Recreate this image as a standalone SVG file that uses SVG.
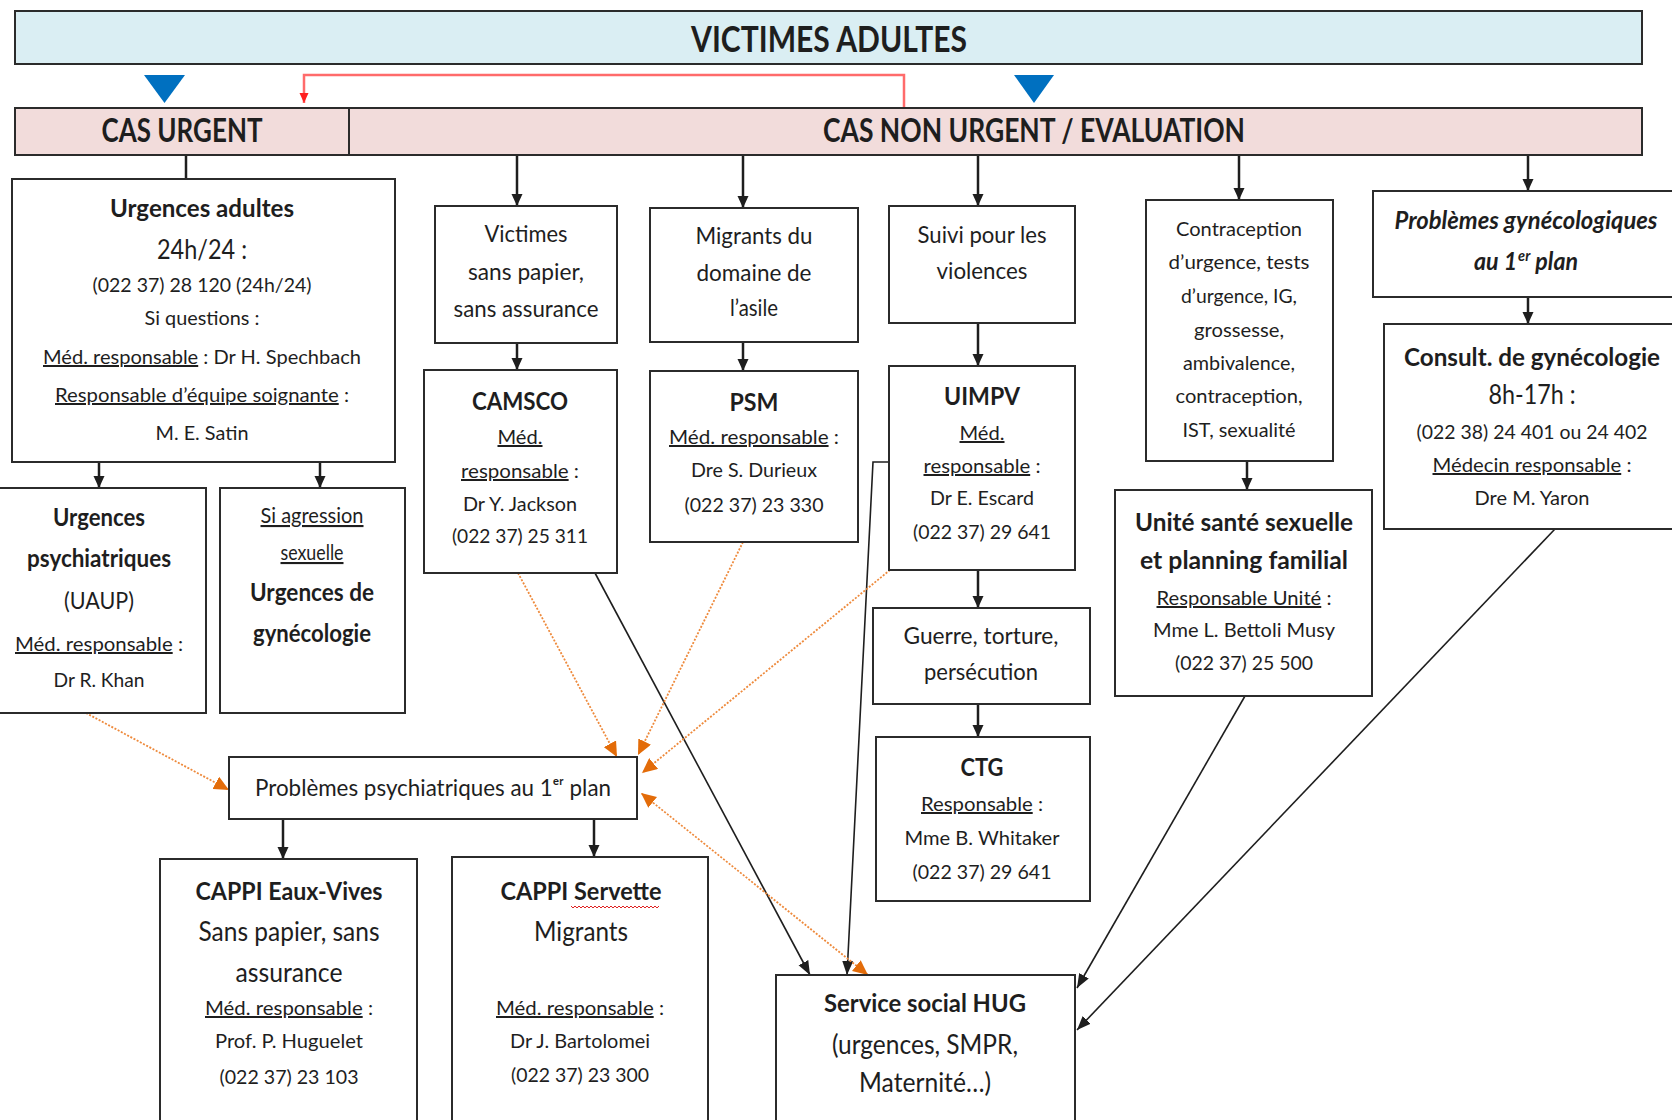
<svg xmlns="http://www.w3.org/2000/svg" width="1672" height="1120" viewBox="0 0 1672 1120">
<defs>
<style>
text{font-family:Lato,"Liberation Sans",Arial,sans-serif;fill:#1e1e1e;text-anchor:middle}
.st{text-anchor:start}
.b{font-weight:bold}
.i{font-style:italic}
.u{text-decoration:underline}
.box{fill:#fff;stroke:#2b2b2b;stroke-width:2}
.s20{font-size:20px}
.s23{font-size:23px}
.s25{font-size:25px}
.s26{font-size:26px}
.s27{font-size:27px}
.ln{fill:none;stroke:#1e1e1e}
.v{stroke-width:2.5;marker-end:url(#ab)}
.p{stroke-width:2.5}
.d{stroke-width:1.6;marker-end:url(#as)}
.or{fill:none;stroke:#EE8A3C;stroke-width:1.8;stroke-dasharray:2 1.6;marker-end:url(#ao)}
</style>
<marker id="ab" markerUnits="userSpaceOnUse" markerWidth="12" markerHeight="12" refX="12" refY="6" orient="auto" viewBox="0 0 12 12"><path d="M0,0.5 L12,6 L0,11.5z" fill="#1e1e1e"/></marker>
<marker id="as" markerUnits="userSpaceOnUse" markerWidth="14" markerHeight="12" refX="14" refY="6" orient="auto" viewBox="0 0 14 12"><path d="M0,0.5 L14,6 L0,11.5z" fill="#1e1e1e"/></marker>
<marker id="ao" markerUnits="userSpaceOnUse" markerWidth="15" markerHeight="14" refX="15" refY="7" orient="auto-start-reverse" viewBox="0 0 15 14"><path d="M0,0 L15,7 L0,14z" fill="#E36C09"/></marker>
<marker id="ar" markerUnits="userSpaceOnUse" markerWidth="10" markerHeight="10" refX="10" refY="5" orient="auto" viewBox="0 0 10 10"><path d="M0,0.5 L10,5 L0,9.5z" fill="#FF2020"/></marker>
</defs>
<rect width="1672" height="1120" fill="#fff"/>

<g id="connectors">
  <polygon points="144,75 185,75 164.5,103" fill="#0070C0"/>
  <polygon points="1014,75 1054,75 1034,103" fill="#0070C0"/>
  <path d="M904,108 V75 H304 V103" fill="none" stroke="#FF6B6B" stroke-width="2.5" marker-end="url(#ar)"/>
  <line class="ln p" x1="186" y1="155" x2="186" y2="179"/>
  <line class="ln v" x1="517" y1="155" x2="517" y2="206"/>
  <line class="ln v" x1="743" y1="155" x2="743" y2="208"/>
  <line class="ln v" x1="978" y1="155" x2="978" y2="206"/>
  <line class="ln v" x1="1239" y1="155" x2="1239" y2="200"/>
  <line class="ln v" x1="1528" y1="155" x2="1528" y2="191"/>
  <line class="ln v" x1="99" y1="462" x2="99" y2="488"/>
  <line class="ln v" x1="320" y1="462" x2="320" y2="488"/>
  <line class="ln v" x1="517" y1="343" x2="517" y2="370"/>
  <line class="ln v" x1="743" y1="342" x2="743" y2="371"/>
  <line class="ln v" x1="978" y1="323" x2="978" y2="366"/>
  <line class="ln v" x1="978" y1="570" x2="978" y2="608"/>
  <line class="ln v" x1="978" y1="704" x2="978" y2="737"/>
  <line class="ln v" x1="1247" y1="461" x2="1247" y2="490"/>
  <line class="ln v" x1="1528" y1="297" x2="1528" y2="324"/>
  <line class="ln v" x1="283" y1="819" x2="283" y2="859"/>
  <line class="ln v" x1="594" y1="819" x2="594" y2="857"/>
  <line class="ln d" x1="595" y1="573" x2="810" y2="975"/>
  <path class="ln d" d="M889,462 H873 L847,975"/>
  <line class="ln d" x1="1245" y1="696" x2="1077" y2="988"/>
  <line class="ln d" x1="1555" y1="529" x2="1077" y2="1030"/>
  <line class="or" x1="86" y1="713" x2="229" y2="790"/>
  <line class="or" x1="518" y1="573" x2="617" y2="757"/>
  <line class="or" x1="743" y1="542" x2="638" y2="755"/>
  <line class="or" x1="890" y1="570" x2="642" y2="773"/>
  <line class="or" x1="868" y1="975" x2="641" y2="793" style="marker-start:url(#ao)"/>
</g>

<g id="victimes-adultes">
  <rect class="box" x="15" y="11" width="1627" height="53" style="fill:#DAEEF3"/>
  <text x="829" y="52" class="b" font-size="37" textLength="276" lengthAdjust="spacingAndGlyphs">VICTIMES ADULTES</text>
</g>
<g id="cas-urgent">
  <rect class="box" x="15" y="108" width="334" height="47" style="fill:#F2DCDB"/>
  <text x="182" y="142" class="b" font-size="33" textLength="161" lengthAdjust="spacingAndGlyphs">CAS URGENT</text>
</g>
<g id="cas-non-urgent">
  <rect class="box" x="349" y="108" width="1293" height="47" style="fill:#F2DCDB"/>
  <text x="1034" y="142" class="b" font-size="33" textLength="422" lengthAdjust="spacingAndGlyphs">CAS NON URGENT / EVALUATION</text>
</g>

<g id="urgences-adultes">
  <rect class="box" x="12" y="179" width="383" height="283"/>
  <text x="202" y="217" class="b s25" textLength="184" lengthAdjust="spacingAndGlyphs">Urgences adultes</text>
  <text x="202" y="259" class="s27" textLength="90" lengthAdjust="spacingAndGlyphs">24h/24 :</text>
  <text x="202" y="292" class="s20" textLength="219" lengthAdjust="spacingAndGlyphs">(022 37) 28 120 (24h/24)</text>
  <text x="202" y="325" class="s20" textLength="115" lengthAdjust="spacingAndGlyphs">Si questions :</text>
  <text x="202" y="364" class="s20" textLength="318" lengthAdjust="spacingAndGlyphs"><tspan class="u">Méd. responsable</tspan> : Dr H. Spechbach</text>
  <text x="202" y="402" class="s20" textLength="294" lengthAdjust="spacingAndGlyphs"><tspan class="u">Responsable d’équipe soignante</tspan> :</text>
  <text x="202" y="440" class="s20" textLength="93" lengthAdjust="spacingAndGlyphs">M. E. Satin</text>
</g>

<g id="urgences-psychiatriques">
  <rect class="box" x="-3" y="488" width="209" height="225"/>
  <text x="99" y="526" class="b s25" textLength="92" lengthAdjust="spacingAndGlyphs">Urgences</text>
  <text x="99" y="567" class="b s25" textLength="144" lengthAdjust="spacingAndGlyphs">psychiatriques</text>
  <text x="99" y="609" font-size="24" textLength="70" lengthAdjust="spacingAndGlyphs">(UAUP)</text>
  <text x="99" y="651" class="s20" textLength="168" lengthAdjust="spacingAndGlyphs"><tspan class="u">Méd. responsable</tspan> :</text>
  <text x="99" y="687" class="s20" textLength="91" lengthAdjust="spacingAndGlyphs">Dr R. Khan</text>
</g>

<g id="urgences-gynecologie">
  <rect class="box" x="220" y="488" width="185" height="225"/>
  <text x="312" y="523" font-size="21" class="u" textLength="103" lengthAdjust="spacingAndGlyphs">Si agression</text>
  <text x="312" y="560" font-size="21" class="u" textLength="63" lengthAdjust="spacingAndGlyphs">sexuelle</text>
  <text x="312" y="601" class="b s25" textLength="124" lengthAdjust="spacingAndGlyphs">Urgences  de</text>
  <text x="312" y="642" class="b s25" textLength="118" lengthAdjust="spacingAndGlyphs">gynécologie</text>
</g>

<g id="victimes-sans-papier">
  <rect class="box" x="435" y="206" width="182" height="137"/>
  <text x="526" y="242" class="s23" textLength="83" lengthAdjust="spacingAndGlyphs">Victimes</text>
  <text x="526" y="280" class="s23" textLength="116" lengthAdjust="spacingAndGlyphs">sans papier,</text>
  <text x="526" y="317" class="s23" textLength="145" lengthAdjust="spacingAndGlyphs">sans assurance</text>
</g>

<g id="camsco">
  <rect class="box" x="424" y="370" width="193" height="203"/>
  <text x="520" y="410" class="b s25" textLength="96" lengthAdjust="spacingAndGlyphs">CAMSCO</text>
  <text x="520" y="444" class="s20 u" textLength="45" lengthAdjust="spacingAndGlyphs">Méd.</text>
  <text x="520" y="478" class="s20" textLength="118" lengthAdjust="spacingAndGlyphs"><tspan class="u">responsable</tspan> :</text>
  <text x="520" y="511" class="s20" textLength="114" lengthAdjust="spacingAndGlyphs">Dr Y. Jackson</text>
  <text x="520" y="543" class="s20" textLength="136" lengthAdjust="spacingAndGlyphs">(022 37) 25 311</text>
</g>

<g id="migrants-asile">
  <rect class="box" x="650" y="208" width="208" height="134"/>
  <text x="754" y="244" class="s23" textLength="117" lengthAdjust="spacingAndGlyphs">Migrants du</text>
  <text x="754" y="281" class="s23" textLength="115" lengthAdjust="spacingAndGlyphs">domaine de</text>
  <text x="754" y="316" class="s23" textLength="48" lengthAdjust="spacingAndGlyphs">l’asile</text>
</g>

<g id="psm">
  <rect class="box" x="650" y="371" width="208" height="171"/>
  <text x="754" y="411" class="b s25" textLength="49" lengthAdjust="spacingAndGlyphs">PSM</text>
  <text x="754" y="444" class="s20" textLength="170" lengthAdjust="spacingAndGlyphs"><tspan class="u">Méd. responsable</tspan> :</text>
  <text x="754" y="477" class="s20" textLength="126" lengthAdjust="spacingAndGlyphs">Dre S. Durieux</text>
  <text x="754" y="512" class="s20" textLength="139" lengthAdjust="spacingAndGlyphs">(022 37) 23 330</text>
</g>

<g id="suivi-violences">
  <rect class="box" x="889" y="206" width="186" height="117"/>
  <text x="982" y="243" class="s23" textLength="129" lengthAdjust="spacingAndGlyphs">Suivi pour les</text>
  <text x="982" y="279" class="s23" textLength="91" lengthAdjust="spacingAndGlyphs">violences</text>
</g>

<g id="uimpv">
  <rect class="box" x="889" y="366" width="186" height="204"/>
  <text x="982" y="405" class="b s25" textLength="76" lengthAdjust="spacingAndGlyphs">UIMPV</text>
  <text x="982" y="440" class="s20 u" textLength="45" lengthAdjust="spacingAndGlyphs">Méd.</text>
  <text x="982" y="473" class="s20" textLength="117" lengthAdjust="spacingAndGlyphs"><tspan class="u">responsable</tspan> :</text>
  <text x="982" y="505" class="s20" textLength="104" lengthAdjust="spacingAndGlyphs">Dr E. Escard</text>
  <text x="982" y="539" class="s20" textLength="138" lengthAdjust="spacingAndGlyphs">(022 37) 29 641</text>
</g>

<g id="guerre-torture">
  <rect class="box" x="873" y="608" width="217" height="96"/>
  <text x="981" y="644" class="s23" textLength="155" lengthAdjust="spacingAndGlyphs">Guerre, torture,</text>
  <text x="981" y="680" class="s23" textLength="114" lengthAdjust="spacingAndGlyphs">persécution</text>
</g>

<g id="ctg">
  <rect class="box" x="876" y="737" width="214" height="164"/>
  <text x="982" y="776" class="b s25" textLength="43" lengthAdjust="spacingAndGlyphs">CTG</text>
  <text x="982" y="811" class="s20" textLength="122" lengthAdjust="spacingAndGlyphs"><tspan class="u">Responsable</tspan> :</text>
  <text x="982" y="845" class="s20" textLength="155" lengthAdjust="spacingAndGlyphs">Mme B. Whitaker</text>
  <text x="982" y="879" class="s20" textLength="139" lengthAdjust="spacingAndGlyphs">(022 37) 29 641</text>
</g>

<g id="contraception">
  <rect class="box" x="1146" y="200" width="187" height="261"/>
  <text x="1239" y="236" class="s20" textLength="126" lengthAdjust="spacingAndGlyphs">Contraception</text>
  <text x="1239" y="269" class="s20" textLength="141" lengthAdjust="spacingAndGlyphs">d’urgence, tests</text>
  <text x="1239" y="303" class="s20" textLength="116" lengthAdjust="spacingAndGlyphs">d’urgence, IG,</text>
  <text x="1239" y="337" class="s20" textLength="90" lengthAdjust="spacingAndGlyphs">grossesse,</text>
  <text x="1239" y="370" class="s20" textLength="112" lengthAdjust="spacingAndGlyphs">ambivalence,</text>
  <text x="1239" y="403" class="s20" textLength="127" lengthAdjust="spacingAndGlyphs">contraception,</text>
  <text x="1239" y="437" class="s20" textLength="113" lengthAdjust="spacingAndGlyphs">IST, sexualité</text>
</g>

<g id="unite-sante-sexuelle">
  <rect class="box" x="1115" y="490" width="257" height="206"/>
  <text x="1244" y="531" class="b s25" textLength="218" lengthAdjust="spacingAndGlyphs">Unité santé sexuelle</text>
  <text x="1244" y="569" class="b s25" textLength="208" lengthAdjust="spacingAndGlyphs">et planning familial</text>
  <text x="1244" y="605" class="s20" textLength="175" lengthAdjust="spacingAndGlyphs"><tspan class="u">Responsable Unité</tspan> :</text>
  <text x="1244" y="637" class="s20" textLength="182" lengthAdjust="spacingAndGlyphs">Mme L. Bettoli Musy</text>
  <text x="1244" y="670" class="s20" textLength="138" lengthAdjust="spacingAndGlyphs">(022 37) 25 500</text>
</g>

<g id="problemes-gynecologiques">
  <rect class="box" x="1373" y="191" width="310" height="106"/>
  <text x="1526" y="229" class="b i" font-size="24" textLength="263" lengthAdjust="spacingAndGlyphs">Problèmes gynécologiques</text>
  <text x="1526" y="270" class="b i" font-size="24" textLength="104" lengthAdjust="spacingAndGlyphs">au 1<tspan font-size="15" dy="-9" dx="1">er</tspan><tspan dy="9"> plan</tspan></text>
</g>

<g id="consult-gynecologie">
  <rect class="box" x="1384" y="324" width="300" height="205"/>
  <text x="1532" y="366" class="b s25" textLength="256" lengthAdjust="spacingAndGlyphs">Consult. de gynécologie</text>
  <text x="1532" y="404" class="s27" textLength="87" lengthAdjust="spacingAndGlyphs">8h-17h :</text>
  <text x="1532" y="439" class="s20" textLength="231" lengthAdjust="spacingAndGlyphs">(022 38) 24 401 ou 24 402</text>
  <text x="1532" y="472" class="s20" textLength="199" lengthAdjust="spacingAndGlyphs"><tspan class="u">Médecin responsable</tspan> :</text>
  <text x="1532" y="505" class="s20" textLength="115" lengthAdjust="spacingAndGlyphs">Dre M. Yaron</text>
</g>

<g id="problemes-psychiatriques">
  <rect class="box" x="229" y="757" width="408" height="62"/>
  <text x="433" y="796" class="s23" textLength="356" lengthAdjust="spacingAndGlyphs">Problèmes psychiatriques au 1ᵉʳ plan</text>
</g>

<g id="cappi-eaux-vives">
  <rect class="box" x="160" y="859" width="257" height="275"/>
  <text x="289" y="900" class="b s25" textLength="187" lengthAdjust="spacingAndGlyphs">CAPPI Eaux-Vives</text>
  <text x="289" y="941" class="s26" textLength="181" lengthAdjust="spacingAndGlyphs">Sans papier, sans</text>
  <text x="289" y="982" class="s26" textLength="107" lengthAdjust="spacingAndGlyphs">assurance</text>
  <text x="289" y="1015" class="s20" textLength="168" lengthAdjust="spacingAndGlyphs"><tspan class="u">Méd. responsable</tspan> :</text>
  <text x="289" y="1048" class="s20" textLength="148" lengthAdjust="spacingAndGlyphs">Prof. P. Huguelet</text>
  <text x="289" y="1084" class="s20" textLength="139" lengthAdjust="spacingAndGlyphs">(022 37) 23 103</text>
</g>

<g id="cappi-servette">
  <rect class="box" x="452" y="857" width="256" height="277"/>
  <text x="581" y="900" class="b s25" textLength="161" lengthAdjust="spacingAndGlyphs">CAPPI Servette</text>
  <path d="M571,906 l2,2 l2,-2 l2,2 l2,-2 l2,2 l2,-2 l2,2 l2,-2 l2,2 l2,-2 l2,2 l2,-2 l2,2 l2,-2 l2,2 l2,-2 l2,2 l2,-2 l2,2 l2,-2 l2,2 l2,-2 l2,2 l2,-2 l2,2 l2,-2 l2,2 l2,-2 l2,2 l2,-2 l2,2 l2,-2 l2,2 l2,-2 l2,2 l2,-2 l2,2 l2,-2 l2,2 l2,-2 l2,2 l2,-2 l2,2 l2,-2" fill="none" stroke="#E02020" stroke-width="1"/>
  <text x="581" y="941" class="s26" textLength="94" lengthAdjust="spacingAndGlyphs">Migrants</text>
  <text x="580" y="1015" class="s20" textLength="168" lengthAdjust="spacingAndGlyphs"><tspan class="u">Méd. responsable</tspan> :</text>
  <text x="580" y="1048" class="s20" textLength="140" lengthAdjust="spacingAndGlyphs">Dr J. Bartolomei</text>
  <text x="580" y="1082" class="s20" textLength="138" lengthAdjust="spacingAndGlyphs">(022 37) 23 300</text>
</g>

<g id="service-social-hug">
  <rect class="box" x="776" y="975" width="299" height="160"/>
  <text x="925" y="1012" class="b s25" textLength="202" lengthAdjust="spacingAndGlyphs">Service social HUG</text>
  <text x="925" y="1054" class="s26" textLength="186" lengthAdjust="spacingAndGlyphs">(urgences, SMPR,</text>
  <text x="925" y="1092" class="s26" textLength="132" lengthAdjust="spacingAndGlyphs">Maternité…)</text>
</g>
</svg>
